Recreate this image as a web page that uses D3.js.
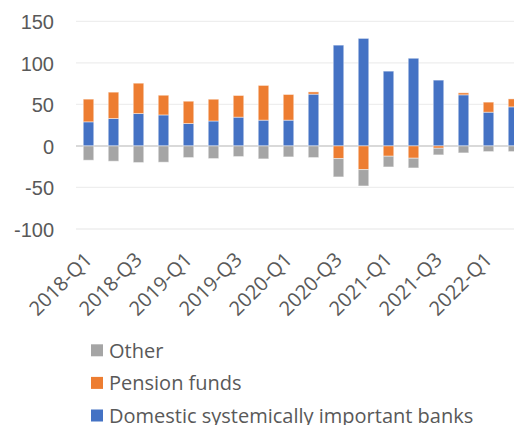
<!DOCTYPE html>
<html>
<head>
<meta charset="utf-8">
<script src="https://cdn.jsdelivr.net/npm/d3@7"></script>
<style>
  body { margin: 0; background: #fff; overflow: hidden; }
  svg { display: block; font-family: "Open Sans", "Noto Sans", sans-serif; }
  .tick-label { fill: #595959; font-size: 20px; }
</style>
</head>
<body>
<svg id="chart" width="514" height="425"></svg>
<script>
// quarters on the x axis
let quarters = ["2018-Q1", "2018-Q2", "2018-Q3", "2018-Q4",
                "2019-Q1", "2019-Q2", "2019-Q3", "2019-Q4",
                "2020-Q1", "2020-Q2", "2020-Q3", "2020-Q4",
                "2021-Q1", "2021-Q2", "2021-Q3", "2021-Q4",
                "2022-Q1", "2022-Q2"]

// series values
let banks   = [29, 33, 39, 37.3, 27, 30, 34.6, 31, 31, 62.3, 121.3, 129.4, 90, 105.5, 79.2, 61.5, 40.6, 47]
let pension = [27.3, 31.7, 36.5, 23.7, 26.8, 26.2, 26.1, 41.8, 30.9, 2.7, -15.2, -28.5, -12.4, -14.8, -2.8, 2.4, 12.1, 9.6]
let other   = [-17.2, -18.4, -20, -19.6, -14, -15.2, -12.8, -15.6, -13.2, -14, -22.1, -19.7, -12.9, -11.7, -8, -8.4, -6.8, -6.8]

let yTicks = [-100, -50, 0, 50, 100, 150]
let xLabels = quarters.filter(function(q, i) { return i % 2 == 0 })

let series = [
  {key: "banks", name: "Domestic systemically important banks", colour: "#4472C4", values: banks},
  {key: "pension", name: "Pension funds", colour: "#ED7D31", values: pension},
  {key: "other", name: "Other", colour: "#A5A5A5", values: other}
]

let rows = quarters.map(function(q, i) {
  let row = {quarter: q}
  series.forEach(function(s) { row[s.key] = s.values[i] })
  return row
})

let svg = d3.select("#chart")

let x = d3.scaleBand()
          .domain(quarters)
          .range([76, 526])
          .paddingInner(0.58)
          .paddingOuter(0.29)

let y = d3.scaleLinear()
          .domain([-100, 150])
          .range([229, 21.3])

// gridlines
svg.append("g")
   .selectAll("line")
   .data(yTicks)
   .enter()
   .append("line")
   .attr("x1", 76)
   .attr("x2", 526)
   .attr("y1", function(d) { return y(d) })
   .attr("y2", function(d) { return y(d) })
   .style("stroke", function(d) { return d == 0 ? "#D9D9D9" : "#EEEEEE" })
   .style("stroke-width", function(d) { return d == 0 ? 2 : 1.3 })

// y axis labels (plain hyphen for negatives, as in the original)
let yAxis = d3.axisLeft(y)
              .tickValues(yTicks)
              .tickFormat(function(d) { return String(d) })
              .tickSize(0)
              .tickPadding(0)
let yG = svg.append("g").attr("transform", "translate(54,0)").call(yAxis)
yG.select(".domain").remove()
yG.selectAll("text").attr("class", "tick-label").attr("fill", null)
  .attr("dy", "0.36em")
  .style("font-family", null)

// stacked bars
let stack = d3.stack()
              .keys(series.map(function(s) { return s.key }))
              .offset(d3.stackOffsetDiverging)

let layers = stack(rows)

svg.append("g")
   .selectAll("g")
   .data(layers)
   .enter()
   .append("g")
   .attr("fill", function(layer, i) { return series[i].colour })
   .selectAll("rect")
   .data(function(layer) { return layer })
   .enter()
   .append("rect")
   .attr("x", function(d) { return x(d.data.quarter) })
   .attr("width", x.bandwidth())
   .attr("y", function(d) { return y(Math.max(d[0], d[1])) })
   .attr("height", function(d) { return Math.abs(y(d[0]) - y(d[1])) })
   .style("stroke", "#fff")
   .style("stroke-opacity", 0.45)
   .style("stroke-width", 1)

// x axis labels, rotated
svg.append("g")
   .selectAll("text")
   .data(xLabels)
   .enter()
   .append("text")
   .attr("class", "tick-label")
   .attr("text-anchor", "end")
   .attr("dy", "0.35em")
   .attr("transform", function(d) {
     return "translate(" + (x(d) + x.bandwidth() / 2) + ",256) rotate(-45)"
   })
   .text(function(d) { return d })

// legend
let legendOrder = [series[2], series[1], series[0]]
let legend = svg.append("g")
                .selectAll("g")
                .data(legendOrder)
                .enter()
                .append("g")
                .attr("transform", function(d, i) { return "translate(91," + (350.3 + i * 32.6) + ")" })

legend.append("rect")
      .attr("x", 0)
      .attr("y", -6)
      .attr("width", 12)
      .attr("height", 12)
      .attr("fill", function(d) { return d.colour })

legend.append("text")
      .attr("class", "tick-label")
      .attr("x", 18)
      .attr("dy", "0.36em")
      .text(function(d) { return d.name })
</script>
</body>
</html>
